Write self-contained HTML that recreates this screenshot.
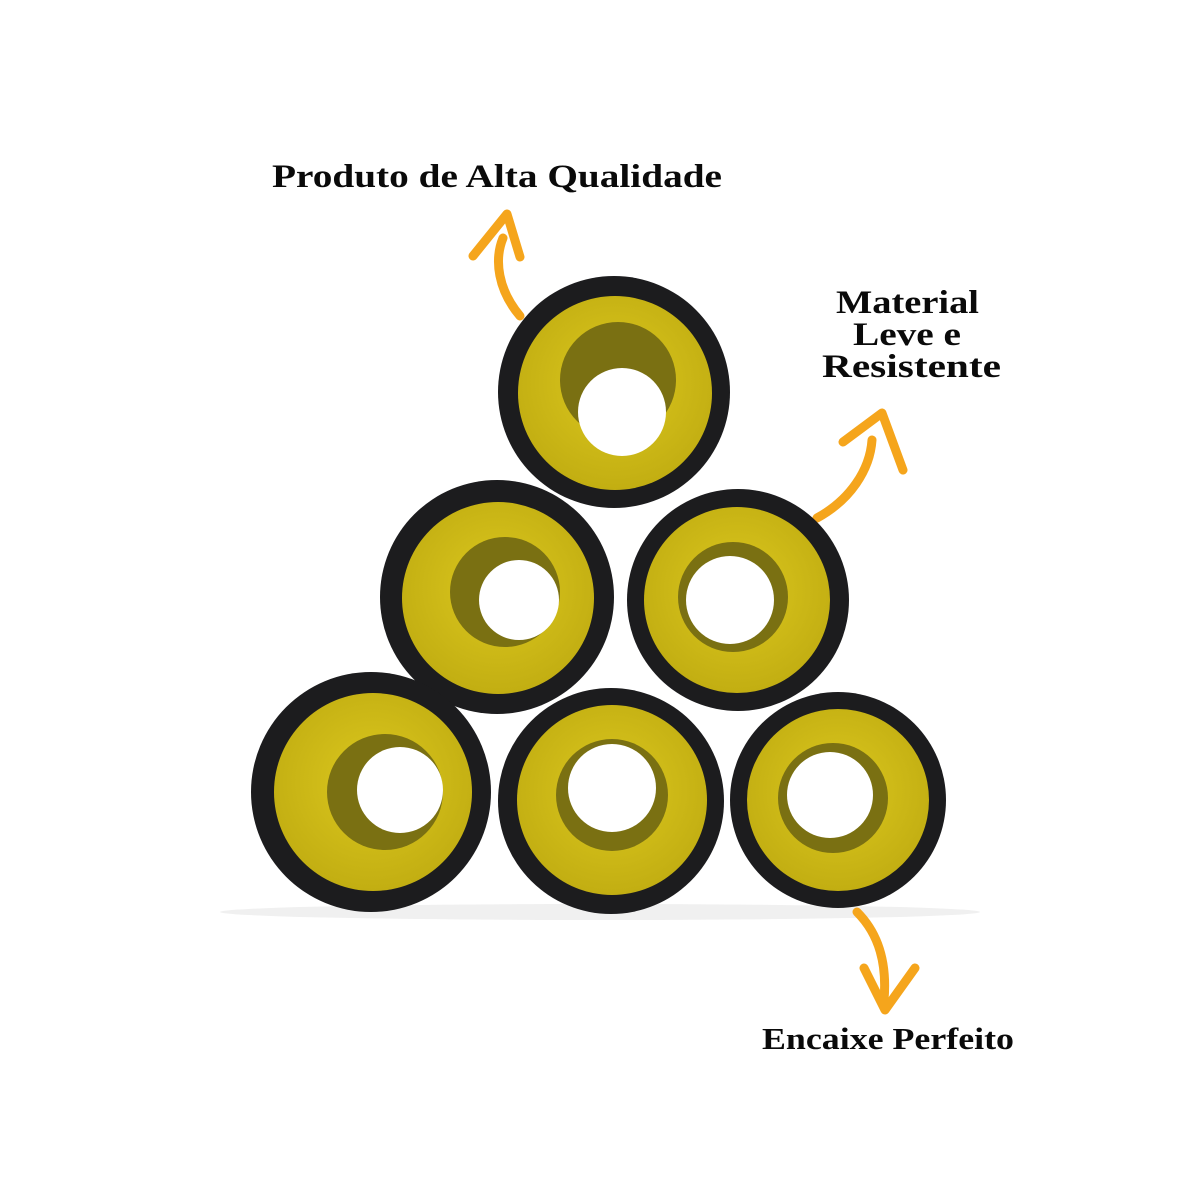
<!DOCTYPE html>
<html><head><meta charset="utf-8"><style>
html,body{margin:0;padding:0;background:#fff;}
svg{display:block}
text{font-family:"Liberation Serif",serif;font-weight:bold;fill:#0a0a0a;}
</style></head><body>
<svg width="1200" height="1200" viewBox="0 0 1200 1200" xmlns="http://www.w3.org/2000/svg">
<defs>
<radialGradient id="yel" cx="50%" cy="45%" r="55%">
<stop offset="0" stop-color="#dcc81e"/><stop offset="1" stop-color="#c2ae12"/>
</radialGradient>
</defs>
<rect width="1200" height="1200" fill="#fff"/>
<ellipse cx="600" cy="912" rx="380" ry="8" fill="#f0f0f0"/>
<g fill="none" stroke="#f5a51c" stroke-width="9" stroke-linecap="round" stroke-linejoin="round">
<path d="M520 316 C498 290 494 260 503 238"/>
<path d="M473 256 L507 214 L520 257"/>
<path d="M817 518 C850 500 870 470 872 440"/>
<path d="M843 442 L882 413 L903 470"/>
<path d="M857 912 C880 935 887 965 884 1000"/>
<path d="M864 968 L885 1010 L915 968"/>
</g>
<g>
<circle cx="614" cy="392" r="116" fill="#1c1c1e"/>
<circle cx="615" cy="393" r="97" fill="url(#yel)"/>
<circle cx="618" cy="380" r="58" fill="#7a7012"/>
<circle cx="622" cy="412" r="44" fill="#fff"/>
<circle cx="497" cy="597" r="117" fill="#1c1c1e"/>
<circle cx="498" cy="598" r="96" fill="url(#yel)"/>
<circle cx="505" cy="592" r="55" fill="#7a7012"/>
<circle cx="519" cy="600" r="40" fill="#fff"/>
<circle cx="738" cy="600" r="111" fill="#1c1c1e"/>
<circle cx="737" cy="600" r="93" fill="url(#yel)"/>
<circle cx="733" cy="597" r="55" fill="#7a7012"/>
<circle cx="730" cy="600" r="44" fill="#fff"/>
<circle cx="371" cy="792" r="120" fill="#1c1c1e"/>
<circle cx="373" cy="792" r="99" fill="url(#yel)"/>
<circle cx="385" cy="792" r="58" fill="#7a7012"/>
<circle cx="400" cy="790" r="43" fill="#fff"/>
<circle cx="611" cy="801" r="113" fill="#1c1c1e"/>
<circle cx="612" cy="800" r="95" fill="url(#yel)"/>
<circle cx="612" cy="795" r="56" fill="#7a7012"/>
<circle cx="612" cy="788" r="44" fill="#fff"/>
<circle cx="838" cy="800" r="108" fill="#1c1c1e"/>
<circle cx="838" cy="800" r="91" fill="url(#yel)"/>
<circle cx="833" cy="798" r="55" fill="#7a7012"/>
<circle cx="830" cy="795" r="43" fill="#fff"/>
</g>
<text x="272" y="187" font-size="33" textLength="450" lengthAdjust="spacingAndGlyphs">Produto de Alta Qualidade</text>
<text x="836" y="313" font-size="33" textLength="143" lengthAdjust="spacingAndGlyphs">Material</text>
<text x="853" y="345" font-size="33" textLength="108" lengthAdjust="spacingAndGlyphs">Leve e</text>
<text x="822" y="377" font-size="33" textLength="179" lengthAdjust="spacingAndGlyphs">Resistente</text>
<text x="762" y="1049" font-size="31" textLength="252" lengthAdjust="spacingAndGlyphs">Encaixe Perfeito</text>
</svg>
</body></html>
